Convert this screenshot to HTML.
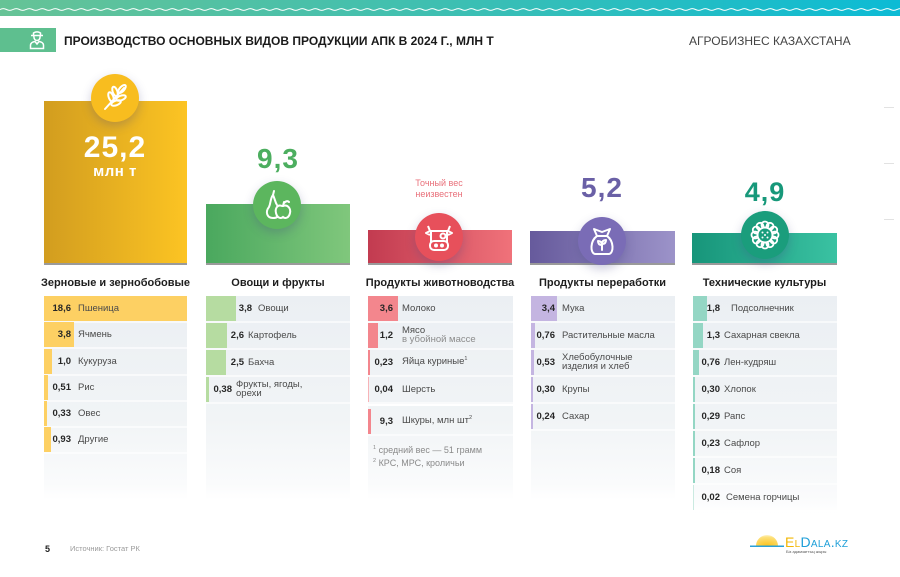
<!DOCTYPE html>
<html><head><meta charset="utf-8">
<style>
*{margin:0;padding:0;box-sizing:border-box}
body{width:900px;height:577px;position:relative;overflow:hidden;background:#fff;font-family:"Liberation Sans","DejaVu Sans",sans-serif;color:#333}
.abs{position:absolute}
.bar{position:absolute}
.base{position:absolute;height:2px;background:#9a9a9a}
.circ{position:absolute;width:48px;height:48px;border-radius:50%;box-shadow:0 4px 10px rgba(70,70,130,.28)}
.circ svg{width:48px;height:48px;display:block}
.big{position:absolute;font-weight:bold;text-align:center;white-space:nowrap;letter-spacing:1px}
.hd{position:absolute;top:276px;height:14px;line-height:14px;font-size:11px;font-weight:bold;color:#1e1e1e;text-align:center;white-space:nowrap}
.p{position:absolute;top:296px;background:linear-gradient(#ebeff3,#f1f4f6 60%,#fafbfc 92%,#fff)}
.r{position:absolute;height:25px}
.r::after{content:"";position:absolute;left:0;right:0;top:25px;height:2px;background:rgba(255,255,255,.6)}
.b{position:absolute;left:0;top:0;height:25px}
.v{position:absolute;left:0;top:0;height:25px;line-height:25px;font-size:9.5px;font-weight:bold;color:#262626;text-align:right;white-space:nowrap}
.l{position:absolute;top:0;height:25px;display:flex;align-items:center;font-size:9.5px;color:#4a4a4a;white-space:nowrap}
.l>div{line-height:8.5px}
.s{font-size:5.5px;position:relative;top:-4px}
.g{color:#8c8c8c}
</style></head><body>

<!-- top band -->
<svg class="abs" style="left:0;top:0" width="900" height="16">
<defs>
<linearGradient id="tb" x1="0" x2="1" y1="0" y2="0"><stop offset="0" stop-color="#66c396"/><stop offset=".5" stop-color="#3dbfb2"/><stop offset="1" stop-color="#0cbbd5"/></linearGradient>
<pattern id="wv" width="13" height="16" patternUnits="userSpaceOnUse"><path d="M0 9.5 Q3.25 7.8 6.5 9.5 T13 9.5" stroke="#fff" stroke-width="1" fill="none"/></pattern>
</defs>
<rect width="900" height="16" fill="url(#tb)"/>
<rect width="900" height="16" fill="url(#wv)"/>
</svg>

<!-- header -->
<div class="abs" style="left:0;top:28px;width:56px;height:24px;background:#5ebf8f"></div>
<svg class="abs" style="left:29px;top:30px" width="16" height="20" viewBox="0 0 16 20">
<g fill="none" stroke="#fff" stroke-width="1.5">
<path d="M2 5.5 H14"/><path d="M4.5 5.5 V3 Q8 0.8 11.5 3 V5.5"/>
<path d="M4.8 6 Q5 10.5 8 10.5 Q11 10.5 11.2 6"/>
<path d="M1.5 18.5 V15 Q2 12 6 11.5 L8 14 L10 11.5 Q14 12 14.5 15 V18.5 Z"/>
</g></svg>
<div class="abs" style="left:64px;top:33px;font-size:12px;font-weight:bold;color:#1a1a1a;white-space:nowrap;line-height:16px">ПРОИЗВОДСТВО ОСНОВНЫХ ВИДОВ ПРОДУКЦИИ АПК В 2024 Г., МЛН Т</div>
<div class="abs" style="left:689px;top:33px;font-size:12px;color:#444;white-space:nowrap;line-height:16px">АГРОБИЗНЕС КАЗАХСТАНА</div>

<!-- right side faint marks -->
<div class="abs" style="left:884px;top:107px;width:10px;height:1px;background:#e2e2e2"></div>
<div class="abs" style="left:884px;top:163px;width:10px;height:1px;background:#e2e2e2"></div>
<div class="abs" style="left:884px;top:219px;width:10px;height:1px;background:#e2e2e2"></div>

<!-- bars -->
<div class="bar" style="left:44px;top:101px;width:143px;height:162px;background:linear-gradient(90deg,#d29d1f,#fcc423)"></div>
<div class="bar" style="left:206px;top:204px;width:144px;height:59px;background:linear-gradient(90deg,#4aa85e,#80c77c)"></div>
<div class="bar" style="left:368px;top:230px;width:144px;height:33px;background:linear-gradient(90deg,#c23b50,#f0727a)"></div>
<div class="bar" style="left:530px;top:231px;width:145px;height:32px;background:linear-gradient(90deg,#665a9c,#9c93c9)"></div>
<div class="bar" style="left:692px;top:233px;width:145px;height:30px;background:linear-gradient(90deg,#17957a,#3ac2a2)"></div>
<div class="base" style="left:44px;top:263px;width:143px"></div>
<div class="base" style="left:206px;top:263px;width:144px"></div>
<div class="base" style="left:368px;top:263px;width:144px"></div>
<div class="base" style="left:530px;top:263px;width:145px"></div>
<div class="base" style="left:692px;top:263px;width:145px"></div>

<!-- big numbers -->
<div class="big" style="left:55px;width:120px;top:133px;font-size:30px;line-height:30px;color:#fff">25,2</div>
<div class="big" style="left:55px;width:120px;top:164px;font-size:15px;line-height:15px;color:#fff;letter-spacing:.5px">млн т</div>
<div class="big" style="left:218px;width:120px;top:145px;font-size:28px;line-height:28px;color:#4cae5f">9,3</div>
<div class="big" style="left:542px;width:120px;top:174px;font-size:28px;line-height:28px;color:#6a60a6">5,2</div>
<div class="big" style="left:705px;width:120px;top:179px;font-size:27px;line-height:27px;color:#17987a">4,9</div>
<div class="abs" style="left:389px;width:100px;top:178px;font-size:9px;line-height:11px;color:#e9717b;text-align:center">Точный вес<br>неизвестен</div>

<!-- circles -->
<div class="circ" style="left:91px;top:74px;background:#f8bd1f">
<svg viewBox="0 0 48 48"><g fill="none" stroke="#fff" stroke-width="2" stroke-linecap="round">
<path d="M14 35 L33 14"/>
<ellipse cx="31" cy="15" rx="2.3" ry="5" transform="rotate(42 31 15)"/>
<ellipse cx="24" cy="17.5" rx="2.3" ry="5" transform="rotate(-20 24 17.5)"/>
<ellipse cx="20" cy="23" rx="2.3" ry="5" transform="rotate(-20 20 23)"/>
<ellipse cx="30" cy="24" rx="2.3" ry="5" transform="rotate(70 30 24)"/>
<ellipse cx="25" cy="29" rx="2.3" ry="5" transform="rotate(70 25 29)"/>
</g></svg></div>

<div class="circ" style="left:253px;top:181px;background:#5cb65e">
<svg viewBox="0 0 48 48"><g fill="none" stroke="#fff" stroke-width="2" stroke-linecap="round">
<path d="M20 14 C17 18 18 22 16 26 C12 31 14 37 20 37 C23 37 24 36 24 36"/>
<path d="M20 14 C22 18 22 21 24 24"/>
<path d="M20 14 L21 10"/>
<path d="M29 25 C24 23 22 28 23 32 C24 37 28 38 30 36 C32 38 36 37 37 32 C38 28 35 23 30 25 Z"/>
<path d="M30 25 L31 21"/><path d="M31 22 Q34 19 36 21"/>
</g></svg></div>

<div class="circ" style="left:415px;top:213px;background:#e7505b">
<svg viewBox="0 0 48 48"><g fill="none" stroke="#fff" stroke-width="2" stroke-linejoin="round">
<path d="M13 13 L15 18 H33 L35 13"/>
<path d="M16 18 V29 M32 18 V29"/>
<path d="M15 18 L11 20 L15 22 M33 18 L37 20 L33 22"/>
<rect x="15" y="28" width="18" height="9" rx="4"/>
<circle cx="21" cy="32.5" r="1" fill="#fff"/><circle cx="27" cy="32.5" r="1" fill="#fff"/>
<circle cx="28" cy="23" r="2.5"/>
</g></svg></div>

<div class="circ" style="left:578px;top:217px;background:#7a6cb6">
<svg viewBox="0 0 48 48"><g fill="none" stroke="#fff" stroke-width="2" stroke-linejoin="round" stroke-linecap="round">
<path d="M19 19 C12 24 12 36 17 37 H31 C36 36 36 24 29 19"/>
<path d="M19 19 H29"/>
<path d="M19 19 L16 12 L24 15 L32 12 L29 19"/>
<path d="M24 33 V27"/><path d="M24 28 Q20 28 20 24 Q24 24 24 28"/><path d="M24 27 Q28 27 28 23 Q24 23 24 27"/>
</g></svg></div>

<div class="circ" style="left:741px;top:211px;background:#1a9d7c">
<svg viewBox="0 0 48 48"><g fill="none" stroke="#fff" stroke-width="1.8">
<circle cx="24" cy="14" r="3.5"/><circle cx="29" cy="15.3" r="3.5"/><circle cx="32.7" cy="19" r="3.5"/><circle cx="34" cy="24" r="3.5"/><circle cx="32.7" cy="29" r="3.5"/><circle cx="29" cy="32.7" r="3.5"/><circle cx="24" cy="34" r="3.5"/><circle cx="19" cy="32.7" r="3.5"/><circle cx="15.3" cy="29" r="3.5"/><circle cx="14" cy="24" r="3.5"/><circle cx="15.3" cy="19" r="3.5"/><circle cx="19" cy="15.3" r="3.5"/>
</g>
<circle cx="24" cy="24" r="7.5" fill="#1a9d7c" stroke="#fff" stroke-width="2"/>
<g fill="#fff"><circle cx="21.5" cy="21.5" r="1"/><circle cx="26.5" cy="21.5" r="1"/><circle cx="24" cy="24" r="1"/><circle cx="21.5" cy="26.5" r="1"/><circle cx="26.5" cy="26.5" r="1"/></g>
</svg></div>

<!-- column headers -->
<div class="hd" style="left:40px;width:151px">Зерновые и зернобобовые</div>
<div class="hd" style="left:206px;width:144px">Овощи и фрукты</div>
<div class="hd" style="left:364px;width:152px">Продукты животноводства</div>
<div class="hd" style="left:530px;width:145px">Продукты переработки</div>
<div class="hd" style="left:692px;width:145px">Технические культуры</div>

<!-- panels -->
<div class="p" style="left:44px;width:143px;height:204px"></div>
<div class="p" style="left:206px;width:144px;height:204px"></div>
<div class="p" style="left:368px;width:145px;height:204px"></div>
<div class="p" style="left:531px;width:144px;height:204px"></div>
<div class="p" style="left:693px;width:144px;height:218px"></div>

<!-- grain rows -->
<div class="r" style="left:44px;top:296px;width:143px"><div class="b" style="width:143px;background:#fdd063"></div><div class="v" style="width:27px">18,6</div><div class="l" style="left:34px">Пшеница</div></div>
<div class="r" style="left:44px;top:322px;width:143px"><div class="b" style="width:30px;background:#fdd063"></div><div class="v" style="width:27px">3,8</div><div class="l" style="left:34px">Ячмень</div></div>
<div class="r" style="left:44px;top:349px;width:143px"><div class="b" style="width:8px;background:#fdd063"></div><div class="v" style="width:27px">1,0</div><div class="l" style="left:34px">Кукуруза</div></div>
<div class="r" style="left:44px;top:375px;width:143px"><div class="b" style="width:4px;background:#fdd063"></div><div class="v" style="width:27px">0,51</div><div class="l" style="left:34px">Рис</div></div>
<div class="r" style="left:44px;top:401px;width:143px"><div class="b" style="width:2.5px;background:#fdd063"></div><div class="v" style="width:27px">0,33</div><div class="l" style="left:34px">Овес</div></div>
<div class="r" style="left:44px;top:427px;width:143px"><div class="b" style="width:7px;background:#fdd063"></div><div class="v" style="width:27px">0,93</div><div class="l" style="left:34px">Другие</div></div>

<!-- veg rows -->
<div class="r" style="left:206px;top:296px;width:144px"><div class="b" style="width:30px;background:#b6dca1"></div><div class="v" style="width:46px">3,8</div><div class="l" style="left:52px">Овощи</div></div>
<div class="r" style="left:206px;top:323px;width:144px"><div class="b" style="width:21px;background:#b6dca1"></div><div class="v" style="width:38px">2,6</div><div class="l" style="left:42px">Картофель</div></div>
<div class="r" style="left:206px;top:350px;width:144px"><div class="b" style="width:20px;background:#b6dca1"></div><div class="v" style="width:38px">2,5</div><div class="l" style="left:42px">Бахча</div></div>
<div class="r" style="left:206px;top:377px;width:144px"><div class="b" style="width:3px;background:#b6dca1"></div><div class="v" style="width:26px">0,38</div><div class="l" style="left:30px"><div>Фрукты, ягоды,<br>орехи</div></div></div>

<!-- livestock rows -->
<div class="r" style="left:368px;top:296px;width:145px"><div class="b" style="width:30px;background:#f3868d"></div><div class="v" style="width:25px">3,6</div><div class="l" style="left:34px">Молоко</div></div>
<div class="r" style="left:368px;top:323px;width:145px"><div class="b" style="width:10px;background:#f3868d"></div><div class="v" style="width:25px">1,2</div><div class="l" style="left:34px"><div>Мясо<br><span class="g">в убойной массе</span></div></div></div>
<div class="r" style="left:368px;top:350px;width:145px"><div class="b" style="width:2px;background:#f3868d"></div><div class="v" style="width:25px">0,23</div><div class="l" style="left:34px"><div>Яйца куриные<span class="s">1</span></div></div></div>
<div class="r" style="left:368px;top:377px;width:145px"><div class="b" style="width:1px;background:#f7b3b7"></div><div class="v" style="width:25px">0,04</div><div class="l" style="left:34px">Шерсть</div></div>
<div class="abs" style="left:368px;top:404px;width:145px;height:2px;background:#fff"></div>
<div class="r" style="left:368px;top:409px;width:145px"><div class="b" style="width:3px;background:#f3868d"></div><div class="v" style="width:25px">9,3</div><div class="l" style="left:34px"><div>Шкуры, млн шт<span class="s">2</span></div></div></div>
<div class="abs" style="left:373px;top:444px;font-size:9px;line-height:12px;color:#8a8a8a;white-space:nowrap"><span class="s">1</span> средний вес — 51 грамм</div>
<div class="abs" style="left:373px;top:457px;font-size:9px;line-height:12px;color:#8a8a8a;white-space:nowrap"><span class="s">2</span> КРС, МРС, кроличьи</div>

<!-- processing rows -->
<div class="r" style="left:531px;top:296px;width:144px"><div class="b" style="width:26px;background:#c4b5e1"></div><div class="v" style="width:24px">3,4</div><div class="l" style="left:31px">Мука</div></div>
<div class="r" style="left:531px;top:323px;width:144px"><div class="b" style="width:4px;background:#c4b5e1"></div><div class="v" style="width:24px">0,76</div><div class="l" style="left:31px">Растительные масла</div></div>
<div class="r" style="left:531px;top:350px;width:144px"><div class="b" style="width:3px;background:#c4b5e1"></div><div class="v" style="width:24px">0,53</div><div class="l" style="left:31px"><div>Хлебобулочные<br>изделия и хлеб</div></div></div>
<div class="r" style="left:531px;top:377px;width:144px"><div class="b" style="width:2px;background:#c4b5e1"></div><div class="v" style="width:24px">0,30</div><div class="l" style="left:31px">Крупы</div></div>
<div class="r" style="left:531px;top:404px;width:144px"><div class="b" style="width:2px;background:#c4b5e1"></div><div class="v" style="width:24px">0,24</div><div class="l" style="left:31px">Сахар</div></div>

<!-- technical rows -->
<div class="r" style="left:693px;top:296px;width:144px"><div class="b" style="width:14px;background:#94d6c4"></div><div class="v" style="width:27px">1,8</div><div class="l" style="left:38px">Подсолнечник</div></div>
<div class="r" style="left:693px;top:323px;width:144px"><div class="b" style="width:10px;background:#94d6c4"></div><div class="v" style="width:27px">1,3</div><div class="l" style="left:31px">Сахарная свекла</div></div>
<div class="r" style="left:693px;top:350px;width:144px"><div class="b" style="width:6px;background:#94d6c4"></div><div class="v" style="width:27px">0,76</div><div class="l" style="left:31px">Лен-кудряш</div></div>
<div class="r" style="left:693px;top:377px;width:144px"><div class="b" style="width:2px;background:#94d6c4"></div><div class="v" style="width:27px">0,30</div><div class="l" style="left:31px">Хлопок</div></div>
<div class="r" style="left:693px;top:404px;width:144px"><div class="b" style="width:2px;background:#94d6c4"></div><div class="v" style="width:27px">0,29</div><div class="l" style="left:31px">Рапс</div></div>
<div class="r" style="left:693px;top:431px;width:144px"><div class="b" style="width:2px;background:#94d6c4"></div><div class="v" style="width:27px">0,23</div><div class="l" style="left:31px">Сафлор</div></div>
<div class="r" style="left:693px;top:458px;width:144px"><div class="b" style="width:1.5px;background:#94d6c4"></div><div class="v" style="width:27px">0,18</div><div class="l" style="left:31px">Соя</div></div>
<div class="r" style="left:693px;top:485px;width:144px"><div class="b" style="width:1px;background:#cbeae1"></div><div class="v" style="width:27px">0,02</div><div class="l" style="left:33px">Семена горчицы</div></div>

<!-- footer -->
<div class="abs" style="left:45px;top:543px;font-size:9px;font-weight:bold;color:#222;line-height:12px">5</div>
<div class="abs" style="left:70px;top:544px;font-size:7.5px;color:#9a9a9a;line-height:10px;white-space:nowrap">Источник: Гостат РК</div>
<svg class="abs" style="left:748px;top:532px" width="40" height="18">
<defs><radialGradient id="sun" cx=".5" cy="1" r="1"><stop offset="0" stop-color="#fbc21a"/><stop offset=".8" stop-color="#fde07a"/><stop offset="1" stop-color="#fff3c4"/></radialGradient></defs>
<path d="M8 14 A11 11 0 0 1 30 14 Z" fill="url(#sun)"/>
<rect x="2" y="13.5" width="34" height="1.5" fill="#2aa0d8"/>
</svg>
<div class="abs" style="left:785px;top:534px;font-size:14px;line-height:16px;white-space:nowrap;font-variant:small-caps;letter-spacing:.3px"><span style="color:#f2b705">El</span><span style="color:#1e9fd8">Dala.kz</span></div>
<div class="abs" style="left:786px;top:549px;font-size:4px;line-height:5px;color:#555;white-space:nowrap">Біз адамзаттың жыры</div>

</body></html>
